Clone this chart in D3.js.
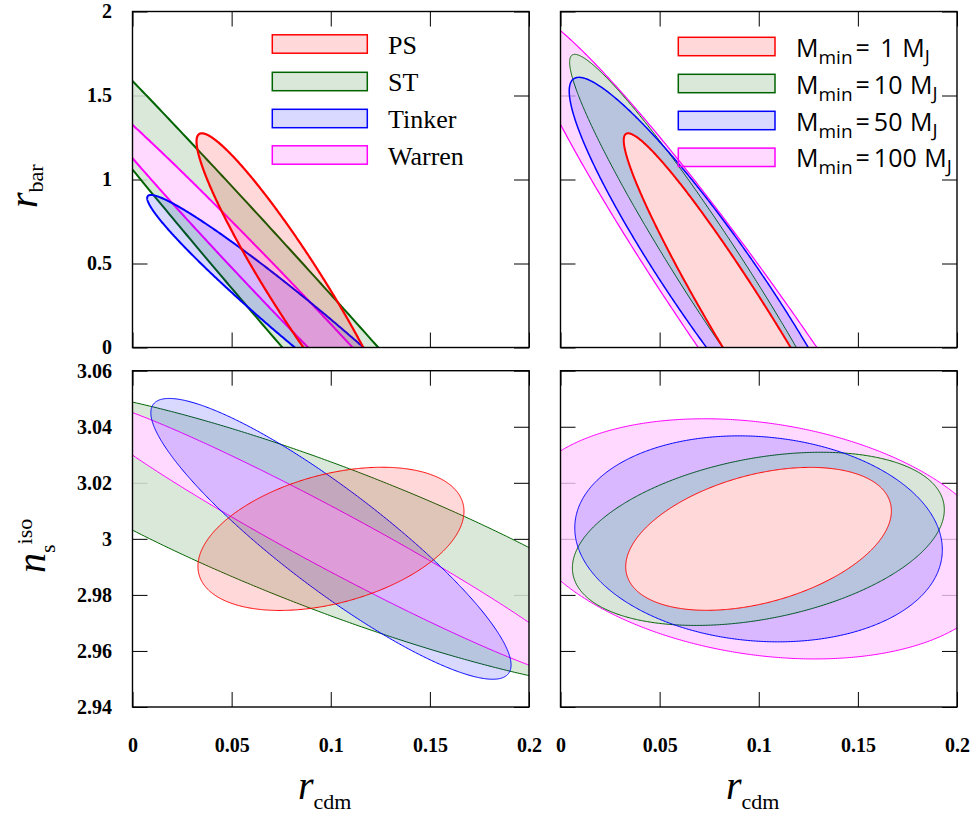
<!DOCTYPE html>
<html>
<head>
<meta charset="utf-8">
<script src="https://d3js.org/d3.v7.min.js"></script>
<style>
  body { margin: 0; background: #fff; }
  .ticks text { font: bold 20px 'Liberation Serif', serif; fill: #000; }
  .ticks line { stroke: #000; stroke-width: 1; }
  .key-left { font: 26px 'Liberation Serif', serif; }
  .key-right { font: 25px 'Open Sans', sans-serif; white-space: pre; }
  .title { font-family: 'Liberation Serif', serif; }
</style>
</head>
<body>
<script>
// tick values
var xTicks = [0, 0.05, 0.1, 0.15, 0.2];
var rbarTicks = [0, 0.5, 1, 1.5, 2];
var nsTicks = [2.94, 2.96, 2.98, 3, 3.02, 3.04, 3.06];

// left column: mass functions, right column: minimum halo mass (M_J)
var massFunctions = ['PS', 'ST', 'Tinker', 'Warren'];
var minMasses = ['1', '10', '50', '100'];

// forecast ellipses, one row per series:
// [centre r_cdm, centre y, sigma r_cdm, sigma y, correlation]
var rbarByMassFn = [
  [0.0831, 0.35, 0.0508, 0.925, -0.947],   // PS
  [0.1369, -0.50, 0.2300, 3.080, -0.9943], // ST
  [0.0893, 0.10, 0.0819, 0.808, -0.977],   // Tinker
  [0.0756, 0.30, 0.1055, 1.300, -0.9940]   // Warren
];
var rbarByMinMass = [
  [0.0990, 0.00, 0.0671, 1.275, -0.967],   // 1
  [0.0790, 0.40, 0.0744, 1.345, -0.965],   // 10
  [0.0797, 0.35, 0.0753, 1.258, -0.935],   // 50
  [0.0994, 0.00, 0.1198, 2.000, -0.9683]   // 100
];
var nsByMassFn = [
  [0.1001, 3.0, 0.0671, 0.02555, 0.384],   // PS
  [0.1000, 3.0, 0.1800, 0.05420, -0.862],  // ST
  [0.1001, 3.0, 0.09085, 0.05010, -0.898], // Tinker
  [0.1000, 3.0, 0.1305, 0.05030, -0.972]   // Warren
];
var nsByMinMass = [
  [0.0999, 3.0, 0.0670, 0.02550, 0.390],   // 1
  [0.0998, 3.0, 0.0938, 0.03090, 0.336],   // 10
  [0.0999, 3.0, 0.0927, 0.03675, -0.106],  // 50
  [0.1005, 3.0, 0.1209, 0.04285, -0.230]   // 100
];

var colors = ['#ff0000', '#006400', '#0000ff', '#ff00ff'];

var svg = d3.select('body').append('svg')
  .attr('width', 972)
  .attr('height', 818);

var cols = [{left: 132.5, right: 529}, {left: 560.5, right: 957}];
var rows = [{top: 11.5, bottom: 347.5}, {top: 370.7, bottom: 707}];

// order = drawing order, under = opacity of the white layer below a fill (0 = see-through)
var panels = [
  {id: 'tl', c: 0, r: 0, ydom: [0, 2], yticks: rbarTicks, ell: rbarByMassFn,
   order: [1, 3, 2, 0], under: [0, 0.85, 0, 1], sw: [2.2, 2, 2, 2]},
  {id: 'tr', c: 1, r: 0, ydom: [0, 2], yticks: rbarTicks, ell: rbarByMinMass,
   order: [3, 1, 2, 0], under: [1, 0.9, 0, 0.75], sw: [2, 1, 1.5, 1.2]},
  {id: 'bl', c: 0, r: 1, ydom: [2.94, 3.06], yticks: nsTicks, ell: nsByMassFn,
   order: [1, 3, 2, 0], under: [0, 0.85, 0, 1], sw: [1, 1, 1, 1]},
  {id: 'br', c: 1, r: 1, ydom: [2.94, 3.06], yticks: nsTicks, ell: nsByMinMass,
   order: [3, 1, 2, 0], under: [1, 0.9, 0, 0.75], sw: [1, 1, 1, 1]}
];

// outline of a correlated ellipse in data units
function outline(e) {
  var s = Math.sqrt(1 - e[4] * e[4]);
  return d3.range(0, 720).map(function(k) {
    var t = k / 720 * 2 * Math.PI;
    return [e[0] + e[2] * Math.cos(t), e[1] + e[3] * (e[4] * Math.cos(t) + s * Math.sin(t))];
  });
}

panels.forEach(function(p) {
  var L = cols[p.c].left, R = cols[p.c].right, T = rows[p.r].top, B = rows[p.r].bottom;
  var x = d3.scaleLinear().domain([0, 0.2]).range([L, R]);
  var y = d3.scaleLinear().domain(p.ydom).range([B, T]);
  var g = svg.append('g');

  svg.append('clipPath').attr('id', 'clip-' + p.id)
    .append('rect').attr('x', L).attr('y', T).attr('width', R - L).attr('height', B - T);

  // inward ticks on all four sides
  function style(a) {
    a.attr('class', 'ticks').attr('font-size', null).attr('font-family', null);
    a.select('.domain').remove();
  }
  g.append('g').attr('transform', 'translate(0,' + B + ')')
    .call(d3.axisBottom(x).tickValues(xTicks).tickSize(-15).tickPadding(31)
      .tickFormat(p.r === 1 ? d3.format('') : ''))
    .call(style);
  g.append('g').attr('transform', 'translate(0,' + T + ')')
    .call(d3.axisTop(x).tickValues(xTicks).tickSize(-15).tickFormat(''))
    .call(style);
  g.append('g').attr('transform', 'translate(' + L + ',0)')
    .call(d3.axisLeft(y).tickValues(p.yticks).tickSize(-15).tickPadding(20.5)
      .tickFormat(p.c === 0 ? d3.format('') : ''))
    .call(style);
  g.append('g').attr('transform', 'translate(' + R + ',0)')
    .call(d3.axisRight(y).tickValues(p.yticks).tickSize(-15).tickFormat(''))
    .call(style);

  var line = d3.line()
    .x(function(d) { return x(d[0]); })
    .y(function(d) { return y(d[1]); })
    .curve(d3.curveLinearClosed);

  var eg = g.append('g').attr('clip-path', 'url(#clip-' + p.id + ')');
  p.order.forEach(function(i) {
    var pts = outline(p.ell[i]);
    if (p.under[i] > 0) {
      eg.append('path').attr('d', line(pts)).attr('fill', '#fff').attr('fill-opacity', p.under[i]);
    }
    eg.append('path').attr('d', line(pts))
      .attr('fill', colors[i]).attr('fill-opacity', 0.15)
      .attr('stroke', colors[i]).attr('stroke-width', p.sw[i]);
  });

  g.append('rect').attr('x', L).attr('y', T).attr('width', R - L).attr('height', B - T)
    .attr('fill', 'none').attr('stroke', '#000').attr('stroke-width', 1.4);
});

// legends
var keyRowsLeft = [44, 81.5, 118.5, 155];
massFunctions.forEach(function(name, i) {
  svg.append('rect').attr('x', 272.3).attr('y', keyRowsLeft[i] - 9.2).attr('width', 95).attr('height', 18.4)
    .attr('fill', colors[i]).attr('fill-opacity', 0.15).attr('stroke', colors[i]).attr('stroke-width', 1.5);
  svg.append('text').attr('class', 'key-left').attr('x', 388).attr('y', keyRowsLeft[i] + 9.5).text(name);
});

var keyRowsRight = [46.5, 83.5, 120.5, 157.3];
minMasses.forEach(function(m, i) {
  svg.append('rect').attr('x', 678.3).attr('y', keyRowsRight[i] - 9.2).attr('width', 96.7).attr('height', 18.4)
    .attr('fill', colors[i]).attr('fill-opacity', 0.15).attr('stroke', colors[i]).attr('stroke-width', 1.5);
  var t = svg.append('text').attr('class', 'key-right').attr('x', 796).attr('y', keyRowsRight[i] + 10);
  t.append('tspan').text('M');
  t.append('tspan').attr('font-size', 19).attr('dy', 7).text('min');
  t.append('tspan').attr('dy', -7).attr('dx', 3).attr('transform', null).text('=');
  t.append('tspan').attr('dx', 4).text(m.length === 1 ? ' ' + m : m);
  t.append('tspan').attr('dx', 1).text(' M');
  t.append('tspan').attr('font-size', 19).attr('dy', 6).text('J');
});

// axis titles
[cols[0], cols[1]].forEach(function(c) {
  var t = svg.append('text').attr('class', 'title')
    .attr('x', (c.left + c.right) / 2 - 6).attr('y', 799).attr('text-anchor', 'middle');
  t.append('tspan').attr('font-size', 40).attr('font-style', 'italic').text('r');
  t.append('tspan').attr('font-size', 22).attr('dy', 10).text('cdm');
});

var tb = svg.append('text').attr('class', 'title')
  .attr('transform', 'translate(37,208) rotate(-90)');
tb.append('tspan').attr('font-size', 40).attr('font-style', 'italic').text('r');
tb.append('tspan').attr('font-size', 22).attr('dy', 6).text('bar');

var tn = svg.append('text').attr('class', 'title')
  .attr('transform', 'translate(45,573) rotate(-90)');
tn.append('tspan').attr('font-size', 40).attr('font-style', 'italic').text('n');
tn.append('tspan').attr('font-size', 22).attr('dy', 10).text('s');
tn.append('tspan').attr('font-size', 22).attr('dy', -23).text('iso');
</script>
</body>
</html>
